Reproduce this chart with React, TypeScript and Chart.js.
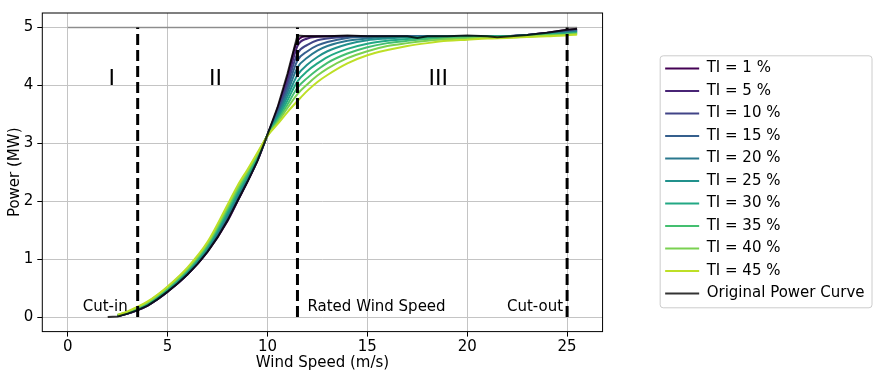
import React, { useEffect, useRef } from 'react';
import { Chart, registerables } from 'chart.js';

Chart.register(...registerables);

// ---------- data ----------
const WIND_TI = [2.5, 3, 3.5, 4, 4.5, 5, 6, 7, 8, 8.5, 9, 9.5, 10, 10.5, 11, 11.5, 12, 12.5, 13, 14, 15, 16, 17, 18, 19, 20, 21, 22, 23, 24, 25, 25.5];

const TI_01 = [0.02, 0.06, 0.12, 0.2, 0.31, 0.44, 0.74, 1.13, 1.66, 2.0, 2.34, 2.7, 3.15, 3.6, 4.15, 4.77, 4.85, 4.85, 4.85, 4.85, 4.85, 4.85, 4.85, 4.85, 4.85, 4.85, 4.85, 4.85, 4.87, 4.91, 4.955, 4.97];
const TI_05 = [0.02, 0.06, 0.12, 0.2, 0.31, 0.44, 0.74, 1.14, 1.68, 2.01, 2.35, 2.71, 3.15, 3.57, 4.09, 4.68, 4.81, 4.84, 4.85, 4.85, 4.85, 4.85, 4.85, 4.85, 4.85, 4.85, 4.85, 4.85, 4.87, 4.905, 4.945, 4.96];
const TI_10 = [0.02, 0.06, 0.13, 0.21, 0.32, 0.45, 0.75, 1.15, 1.69, 2.03, 2.36, 2.72, 3.15, 3.54, 4.02, 4.55, 4.7, 4.78, 4.81, 4.84, 4.85, 4.85, 4.85, 4.85, 4.85, 4.85, 4.85, 4.85, 4.87, 4.9, 4.935, 4.95];
const TI_15 = [0.02, 0.07, 0.13, 0.21, 0.33, 0.46, 0.76, 1.16, 1.72, 2.05, 2.38, 2.73, 3.15, 3.51, 3.95, 4.43, 4.59, 4.69, 4.75, 4.82, 4.84, 4.845, 4.85, 4.85, 4.85, 4.85, 4.85, 4.85, 4.87, 4.895, 4.925, 4.94];
const TI_20 = [0.03, 0.07, 0.14, 0.22, 0.33, 0.47, 0.78, 1.18, 1.75, 2.08, 2.4, 2.74, 3.14, 3.48, 3.88, 4.31, 4.48, 4.6, 4.68, 4.77, 4.81, 4.83, 4.84, 4.85, 4.85, 4.85, 4.85, 4.85, 4.865, 4.89, 4.915, 4.93];
const TI_25 = [0.03, 0.08, 0.15, 0.23, 0.34, 0.48, 0.79, 1.2, 1.78, 2.11, 2.43, 2.76, 3.14, 3.45, 3.81, 4.18, 4.36, 4.49, 4.59, 4.71, 4.78, 4.81, 4.83, 4.84, 4.845, 4.85, 4.85, 4.85, 4.86, 4.885, 4.905, 4.92];
const TI_30 = [0.03, 0.08, 0.15, 0.24, 0.35, 0.49, 0.81, 1.22, 1.82, 2.15, 2.45, 2.78, 3.14, 3.42, 3.74, 4.07, 4.25, 4.38, 4.49, 4.63, 4.72, 4.77, 4.8, 4.82, 4.83, 4.84, 4.845, 4.85, 4.86, 4.88, 4.895, 4.91];
const TI_35 = [0.03, 0.09, 0.16, 0.25, 0.37, 0.5, 0.82, 1.25, 1.86, 2.19, 2.48, 2.8, 3.14, 3.39, 3.67, 3.96, 4.13, 4.27, 4.39, 4.55, 4.66, 4.73, 4.77, 4.8, 4.82, 4.83, 4.84, 4.84, 4.85, 4.87, 4.885, 4.9];
const TI_40 = [0.04, 0.09, 0.17, 0.26, 0.38, 0.52, 0.84, 1.27, 1.9, 2.23, 2.52, 2.82, 3.13, 3.36, 3.61, 3.85, 4.02, 4.17, 4.29, 4.47, 4.59, 4.68, 4.73, 4.77, 4.8, 4.81, 4.83, 4.83, 4.84, 4.86, 4.875, 4.89];
const TI_45 = [0.04, 0.1, 0.18, 0.27, 0.39, 0.53, 0.86, 1.3, 1.94, 2.27, 2.55, 2.84, 3.13, 3.33, 3.54, 3.73, 3.91, 4.06, 4.18, 4.38, 4.52, 4.61, 4.68, 4.73, 4.77, 4.79, 4.81, 4.82, 4.835, 4.85, 4.865, 4.88];

const TI_LABELS = ['TI = 1 %', 'TI = 5 %', 'TI = 10 %', 'TI = 15 %', 'TI = 20 %', 'TI = 25 %', 'TI = 30 %', 'TI = 35 %', 'TI = 40 %', 'TI = 45 %'];
const TI_COLORS = ['#440154', '#482475', '#414487', '#355f8d', '#2a788e', '#21918c', '#22a884', '#44bf70', '#7ad151', '#bddf26'];

const WIND_ORIG = [2, 2.5, 3, 3.5, 4, 4.5, 5, 5.5, 6, 6.5, 7, 7.5, 8, 8.5, 9, 9.5, 10, 10.5, 11, 11.5, 12, 13, 14, 15, 16, 17, 17.5, 18, 19, 20, 21, 21.5, 22, 23, 24, 25, 25.5];
const POWER_ORIG = [0, 0.01, 0.06, 0.12, 0.2, 0.31, 0.44, 0.58, 0.74, 0.92, 1.13, 1.38, 1.67, 2.01, 2.34, 2.7, 3.15, 3.62, 4.2, 4.86, 4.85, 4.85, 4.86, 4.85, 4.85, 4.85, 4.82, 4.85, 4.85, 4.86, 4.85, 4.83, 4.845, 4.87, 4.91, 4.96, 4.98];
const ORIG_LABEL = 'Original Power Curve';

const BOUNDARY_X = [3.5, 11.5, 25];
const RATED_POWER = 5;
const RATED_LINE_X = [0, 25.5];

const REGION_LABELS = ['I', 'II', 'III'];
const REGION_X = [2.2, 7.4, 18.55];
const REGION_Y = 4.0;

const MARKER_LABELS = ['Cut-in', 'Rated Wind Speed', 'Cut-out'];
const MARKER_X = [3.0, 12.0, 24.8];
const MARKER_ALIGN = ['right', 'left', 'right'];
const MARKER_Y = 0.11;

const X_TICKS = [0, 5, 10, 15, 20, 25];
const Y_TICKS = [0, 1, 2, 3, 4, 5];
const X_MIN = -1.275, X_MAX = 26.775;
const Y_MIN = -0.25, Y_MAX = 5.25;

const FONT = "'DejaVu Sans', sans-serif";
const LEGEND_TITLE_H = 17.4;

export default function App() {
  const ref = useRef<HTMLCanvasElement>(null);

  useEffect(() => {
    const canvas = ref.current;
    if (!canvas) return;

    const tiSeries = [TI_01, TI_05, TI_10, TI_15, TI_20, TI_25, TI_30, TI_35, TI_40, TI_45];
    const datasets: any[] = tiSeries.map((vals, i) => ({
      label: TI_LABELS[i],
      data: WIND_TI.map((x, j) => ({ x, y: vals[j] })),
      borderColor: TI_COLORS[i],
      backgroundColor: TI_COLORS[i],
      borderWidth: 2,
      pointRadius: 0,
      cubicInterpolationMode: 'monotone',
      order: 11 - i,
    }));
    datasets.push({
      label: ORIG_LABEL,
      data: WIND_ORIG.map((x, j) => ({ x, y: POWER_ORIG[j] })),
      borderColor: 'rgba(0,0,0,0.8)',
      backgroundColor: 'rgba(0,0,0,0.8)',
      borderWidth: 2,
      pointRadius: 0,
      tension: 0,
      order: 1,
    });
    BOUNDARY_X.forEach((bx) => {
      datasets.push({
        label: '',
        data: [{ x: bx, y: 0 }, { x: bx, y: RATED_POWER }],
        borderColor: '#000',
        borderWidth: 3,
        borderDash: [11, 5],
        pointRadius: 0,
        order: 0,
      });
    });
    datasets.push({
      label: '',
      data: RATED_LINE_X.map((x) => ({ x, y: RATED_POWER })),
      borderColor: 'rgba(128,128,128,0.8)',
      borderWidth: 1.5,
      pointRadius: 0,
      order: 30,
    });

    const decor = {
      id: 'decor',
      beforeDraw(chart: any) {
        const lg = chart.legend;
        if (!lg) return;
        const ctx = chart.ctx;
        const pad = 7.5, itemH = 15, n = 11;
        const colH = n * (itemH + pad);
        const y0 = (lg.top + LEGEND_TITLE_H + pad + lg.bottom - colH) / 2;
        const left = lg.left + 2.5;
        const right = lg.left + lg.width - 2.5;
        const top = y0 - 5.2;
        const bottom = y0 + (n - 1) * (itemH + pad) + itemH + 6.8;
        ctx.save();
        ctx.beginPath();
        const r = 3;
        ctx.moveTo(left + r, top);
        ctx.lineTo(right - r, top);
        ctx.arcTo(right, top, right, top + r, r);
        ctx.lineTo(right, bottom - r);
        ctx.arcTo(right, bottom, right - r, bottom, r);
        ctx.lineTo(left + r, bottom);
        ctx.arcTo(left, bottom, left, bottom - r, r);
        ctx.lineTo(left, top + r);
        ctx.arcTo(left, top, left + r, top, r);
        ctx.closePath();
        ctx.fillStyle = '#fff';
        ctx.fill();
        ctx.strokeStyle = '#cccccc';
        ctx.lineWidth = 1;
        ctx.stroke();
        ctx.restore();
      },
      afterDatasetsDraw(chart: any) {
        const { ctx, chartArea: a, scales } = chart;
        const xs = scales.x, ys = scales.y;
        ctx.save();
        ctx.fillStyle = '#000';
        ctx.textBaseline = 'alphabetic';
        ctx.font = `22px ${FONT}`;
        ctx.textAlign = 'center';
        REGION_LABELS.forEach((t, i) => {
          ctx.fillText(t, xs.getPixelForValue(REGION_X[i]), ys.getPixelForValue(REGION_Y));
        });
        ctx.font = `15px ${FONT}`;
        MARKER_LABELS.forEach((t, i) => {
          ctx.textAlign = MARKER_ALIGN[i] as CanvasTextAlign;
          ctx.fillText(t, xs.getPixelForValue(MARKER_X[i]), ys.getPixelForValue(MARKER_Y));
        });
        ctx.strokeStyle = '#000';
        ctx.lineWidth = 1;
        ctx.strokeRect(a.left, a.top, a.right - a.left, a.bottom - a.top);
        ctx.restore();
      },
    };

    const chart = new Chart(canvas, {
      type: 'line',
      data: { datasets },
      plugins: [decor],
      options: {
        animation: false,
        responsive: false,
        devicePixelRatio: 1,
        events: [],
        layout: { padding: { top: 4.4, right: 6.5, bottom: 0, left: 0 } },
        font: { family: FONT, size: 15 },
        plugins: {
          tooltip: { enabled: false },
          legend: {
            position: 'right',
            fullSize: false,
            align: 'center',
            maxWidth: 400,
            title: { display: true, text: ' ', font: { family: FONT, size: 15, lineHeight: 1.0 }, padding: { top: 1.2, bottom: 1.2 } },
            labels: {
              usePointStyle: true,
              pointStyle: 'line',
              pointStyleWidth: 34,
              padding: 7.5,
              color: '#000',
              font: { family: FONT, size: 15 },
              filter: (item: any) => item.datasetIndex <= 10,
              sort: (a: any, b: any) => a.datasetIndex - b.datasetIndex,
            },
          },
        },
        scales: {
          x: {
            type: 'linear',
            position: 'bottom',
            min: X_MIN,
            max: X_MAX,
            afterBuildTicks: (s: any) => { s.ticks = X_TICKS.map((v) => ({ value: v })); },
            afterFit: (s: any) => { s.height = 45.4; },
            grid: { color: '#c4c4c4', lineWidth: 1, tickLength: 5, tickColor: '#000', tickWidth: 1 },
            border: { display: false },
            ticks: { color: '#000', font: { family: FONT, size: 15 }, padding: 2, maxRotation: 0, callback: (v: any) => String(v) },
            title: { display: true, text: 'Wind Speed (m/s)', color: '#000', font: { family: FONT, size: 15 }, padding: { top: 4, bottom: 4.7 } },
          },
          y: {
            type: 'linear',
            position: 'left',
            min: Y_MIN,
            max: Y_MAX,
            afterBuildTicks: (s: any) => { s.ticks = Y_TICKS.map((v) => ({ value: v })); },
            afterFit: (s: any) => { s.width = 42.3; },
            grid: { color: '#c4c4c4', lineWidth: 1, tickLength: 5, tickColor: '#000', tickWidth: 1 },
            border: { display: false },
            ticks: { color: '#000', font: { family: FONT, size: 15 }, padding: 4, callback: (v: any) => String(v) },
            title: { display: true, text: 'Power (MW)', color: '#000', font: { family: FONT, size: 15 }, padding: { top: 6, bottom: 0 } },
          },
          yPad: {
            type: 'linear',
            position: 'right',
            display: true,
            grid: { display: false, drawTicks: false },
            ticks: { display: false },
            border: { display: false },
            afterFit: (s: any) => { s.width = 55.1; },
          },
        },
      } as any,
    });

    return () => chart.destroy();
  }, []);

  return (
    <div style={{ position: 'fixed', left: 0, top: 0, width: 881, height: 377, background: '#fff' }}>
      <canvas ref={ref} width={881} height={377} />
    </div>
  );
}
